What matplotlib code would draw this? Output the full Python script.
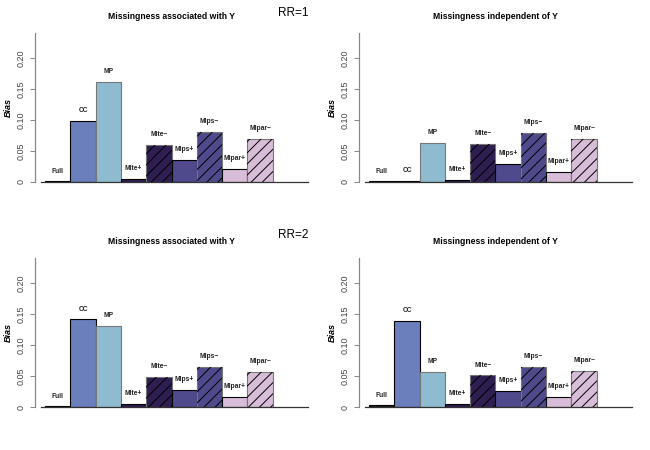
import numpy as np
import matplotlib
matplotlib.use("Agg")
import matplotlib.pyplot as plt

plt.rcParams['font.family'] = ['Liberation Sans', 'DejaVu Sans']
plt.rcParams['hatch.linewidth'] = 0.7

# methods, in bar order
methods = ["Full", "CC", "MP", "MIte+", "MIte\u2212", "MIps+", "MIps\u2212", "MIpar+", "MIpar\u2212"]
fills = ["#222222", "#6a7fbb", "#8fbbd0", "#2e1e52", "#2e1e52", "#4e4a8c", "#4e4a8c", "#d8bdd8", "#d8bdd8"]
hatched = [False, False, False, False, True, False, True, False, True]
edges = ["black", "black", "#777777", "black", "#777777", "black", "#777777", "black", "#777777"]

# bias
bias_rr1_assoc = [0.001, 0.098, 0.161, 0.005, 0.060, 0.035, 0.081, 0.021, 0.070]
bias_rr1_indep = [0.001, 0.0015, 0.063, 0.003, 0.062, 0.029, 0.079, 0.016, 0.070]
bias_rr2_assoc = [0.001, 0.141, 0.130, 0.005, 0.048, 0.028, 0.064, 0.016, 0.056]
bias_rr2_indep = [0.0025, 0.138, 0.057, 0.005, 0.051, 0.026, 0.065, 0.016, 0.058]

titles = ["Missingness associated with Y", "Missingness independent of Y"]
ticks = [0, 0.05, 0.10, 0.15, 0.20]
tick_labels = ["0", "0.05", "0.10", "0.15", "0.20"]

fig = plt.figure(figsize=(6.5, 4.5), dpi=100)

W, H = 650, 450
def add_ax(left, right, top, bottom):
    return fig.add_axes([left / W, 1 - bottom / H, (right - left) / W, (bottom - top) / H])

panels = [
    (add_ax(35, 308, 33, 182), bias_rr1_assoc, titles[0]),
    (add_ax(359, 632, 33, 182), bias_rr1_indep, titles[1]),
    (add_ax(35, 308, 258, 407), bias_rr2_assoc, titles[0]),
    (add_ax(359, 632, 258, 407), bias_rr2_indep, titles[1]),
]

x = np.arange(len(methods)) + 0.5
for ax, vals, title in panels:
    for i in range(len(methods)):
        ax.bar(x[i], vals[i], width=1.0, color=fills[i], edgecolor=edges[i], linewidth=0.8, zorder=2)
        if hatched[i]:
            ax.bar(x[i], vals[i], width=1.0, color="none", edgecolor="black",
                   hatch="///", linewidth=0, zorder=3)
        ax.text(x[i], vals[i] + 0.011, methods[i], ha="center", va="bottom",
                fontsize=4.8, fontweight="bold", color="#222222")
    ax.set_xlim(-0.4, 10.4)
    ax.set_ylim(0, 0.24)
    ax.plot([-0.16, 10.4], [0, 0], color="#333333", lw=0.9, zorder=4, clip_on=False)
    for s in ["top", "right", "bottom"]:
        ax.spines[s].set_visible(False)
    ax.spines["left"].set_color("#888888")
    ax.spines["left"].set_linewidth(0.9)
    ax.set_xticks([])
    ax.set_yticks(ticks)
    ax.set_yticklabels(tick_labels, rotation=90, va="center", fontsize=6.5, color="#444444")
    ax.tick_params(axis="y", length=3.5, width=0.7, color="#888888", pad=3)
    ax.set_ylabel("Bias", fontsize=6.5, fontweight="bold", style="italic", labelpad=3)
    ax.text(0.5, 1 + 16 / 149, title, transform=ax.transAxes, ha="center", va="center",
            fontsize=6.2, fontweight="bold")

fig.text(293 / W, 1 - 13 / H, "RR=1", ha="center", va="center", fontsize=8.5)
fig.text(293 / W, 1 - 235 / H, "RR=2", ha="center", va="center", fontsize=8.5)

fig.savefig("out.png", dpi=100)
